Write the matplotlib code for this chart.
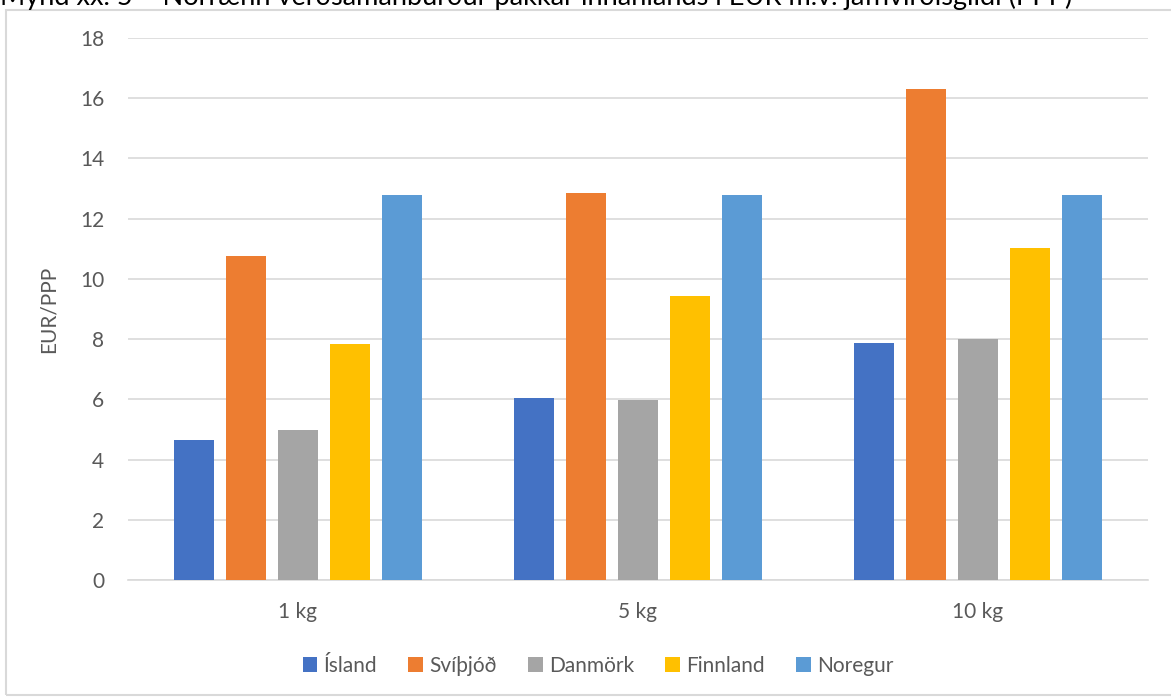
import numpy as np
import matplotlib.pyplot as plt
from matplotlib.patches import Rectangle

# data
categories = ['1 kg', '5 kg', '10 kg']
countries = ['Ísland', 'Svíþjóð', 'Danmörk', 'Finnland', 'Noregur']
island = [4.65, 6.05, 7.87]
svithjod = [10.77, 12.86, 16.32]
danmork = [4.99, 5.99, 8.01]
finnland = [7.84, 9.43, 11.02]
noregur = [12.79, 12.79, 12.79]
series = [island, svithjod, danmork, finnland, noregur]

colors = ['#4472C4', '#ED7D31', '#A5A5A5', '#FFC000', '#5B9BD5']
text_color = '#595959'
title = 'Mynd xx. 5 \u2013 Norrænn verðsamanburður pakkar innanlands í EUR m.v. jafnvirðisgildi (PPP)'

plt.rcParams['font.family'] = ['Lato', 'DejaVu Sans']

fig = plt.figure(figsize=(11.71, 6.98), dpi=100)
fig.patches.append(Rectangle((6 / 1171, 0.004), 1.0, 1 - 10 / 698 - 0.004,
                             transform=fig.transFigure, fill=False,
                             edgecolor='#d9d9d9', linewidth=1.5))
fig.text(0.0, 1 - 5 / 698, title, fontsize=19.5, color='black',
         va='baseline', ha='left')

ax = fig.add_axes([128 / 1171, 1 - 580 / 698, 1020 / 1171, 542 / 698])

x = np.arange(len(categories))
pitch = 0.153
width = 0.12
for i, (name, vals) in enumerate(zip(countries, series)):
    ax.bar(x + (i - 2) * pitch, vals, width, color=colors[i], label=name,
           zorder=3)

ax.set_xlim(-0.5, 2.5)
ax.set_ylim(0, 18)
ax.set_yticks(np.arange(0, 19, 2))
ax.set_xticks(x)
ax.set_xticklabels(categories)
ax.tick_params(axis='both', length=0, labelsize=15, labelcolor=text_color)
ax.tick_params(axis='y', pad=17)
ax.tick_params(axis='x', pad=16)
ax.grid(axis='y', color='#d9d9d9', linewidth=1.2, zorder=0)
for s in ['top', 'right', 'left']:
    ax.spines[s].set_visible(False)
ax.spines['bottom'].set_color('#d9d9d9')
ax.spines['bottom'].set_linewidth(1.2)
ax.set_ylabel('EUR/PPP', fontsize=15, color=text_color)
ax.yaxis.set_label_coords(-0.0676, 0.5)

fig.legend(loc='center', bbox_to_anchor=(598 / 1171, 1 - 666 / 698), ncol=5,
           frameon=False, fontsize=15, labelcolor=text_color,
           handlelength=0.7, handleheight=0.7, handletextpad=0.3,
           columnspacing=1.5)

fig.savefig('out.png', dpi=100)
